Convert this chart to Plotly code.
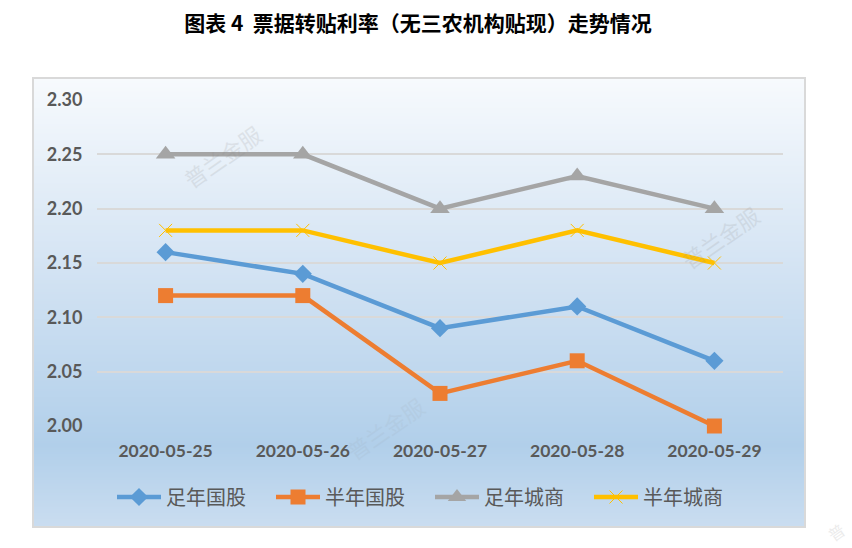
import plotly.graph_objects as go

dates = ['2020-05-25', '2020-05-26', '2020-05-27', '2020-05-28', '2020-05-29']
zunian_guogu = [2.16, 2.14, 2.09, 2.11, 2.06]
bannian_guogu = [2.12, 2.12, 2.03, 2.06, 2.00]
zunian_chengshang = [2.25, 2.25, 2.20, 2.23, 2.20]
bannian_chengshang = [2.18, 2.18, 2.15, 2.18, 2.15]
y_ticks = [2.00, 2.05, 2.10, 2.15, 2.20, 2.25, 2.30]

W, H = 852, 548
L, R, T, B = 97, 783, 100, 426
BOX = (33, 78, 805, 527)


def px(x):
    return (x - L) / (R - L)


def py(y):
    return (B - y) / (B - T)


def mix(a, b, t):
    return tuple(round(a[i] + (b[i] - a[i]) * t) for i in range(3))


# background gradient of the chart box, drawn as thin bands
stops = [(78, (247, 250, 253)), (270, (211, 227, 243)), (445, (177, 207, 234)), (527, (202, 221, 240))]
shapes = []
for y in range(BOX[1], BOX[3]):
    for (y0, c0), (y1, c1) in zip(stops, stops[1:]):
        if y0 <= y <= y1:
            r, g, b = mix(c0, c1, (y - y0) / (y1 - y0))
            break
    shapes.append(dict(type='rect', xref='paper', yref='paper', layer='below',
                       x0=px(BOX[0]), x1=px(BOX[2]), y0=py(y), y1=py(y + 1.5),
                       fillcolor=f'rgb({r},{g},{b})', line_width=0))
shapes.append(dict(type='rect', xref='paper', yref='paper', layer='below',
                   x0=px(BOX[0]), x1=px(BOX[2]), y0=py(BOX[1]), y1=py(BOX[3]),
                   line=dict(color='#D9D9D9', width=2)))

fig = go.Figure()


def add_line(name, values, color, symbol, size, **marker_extra):
    fig.add_trace(go.Scatter(
        x=dates, y=values, name=name, mode='lines+markers', cliponaxis=False,
        line=dict(color=color, width=4.5),
        marker=dict(symbol=symbol, size=size, color=color, **marker_extra)
    ))


add_line('足年国股', zunian_guogu, '#5B9BD5', 'diamond', 14)
add_line('半年国股', bannian_guogu, '#ED7D31', 'square', 15)
add_line('足年城商', zunian_chengshang, '#A5A5A5', 'triangle-up', 17)
add_line('半年城商', bannian_chengshang, '#FFC000', 'x-thin', 13, line=dict(color='#FFC000', width=1))

# watermarks
annotations = []
for text, x, y, size, alpha in [('普兰金服', 222, 156, 22, 0.16), ('普兰金服', 720, 237, 22, 0.16),
                                ('普兰金服', 385, 428, 22, 0.08), ('普', 836, 532, 16, 0.16)]:
    annotations.append(dict(text=text, x=px(x), y=py(y), xref='paper', yref='paper',
                            xanchor='center', yanchor='middle',
                            showarrow=False, textangle=-35, opacity=alpha,
                            font=dict(family='Noto Sans CJK SC', size=size, color='#8A8A8A')))

fig.update_layout(
    width=W, height=H,
    margin=dict(l=L, r=W - R, t=T, b=H - B, pad=0),
    paper_bgcolor='white',
    plot_bgcolor='rgba(0,0,0,0)',
    shapes=shapes,
    annotations=annotations,
    title=dict(text='<b>图表 4  票据转贴利率（无三农机构贴现）走势情况</b>', x=418 / W, xanchor='center',
               y=1 - 24 / H, yanchor='middle',
               font=dict(family='Noto Sans CJK SC', size=21, color='black')),
    legend=dict(orientation='h', x=px(112), xanchor='left', y=py(497), yanchor='middle',
                itemwidth=44, entrywidth=100, entrywidthmode='pixels',
                bgcolor='rgba(0,0,0,0)', traceorder='normal',
                font=dict(family='Noto Sans CJK SC', size=20, color='#595959')),
    showlegend=True,
    hovermode='x unified'
)
fig.update_xaxes(type='category', range=[-0.5, 4.5], showgrid=False, showline=False, zeroline=False,
                 ticks='outside', ticklen=9, tickcolor='rgba(0,0,0,0)',
                 tickfont=dict(family='Lato', size=17.5, color='#595959', weight='bold'))
fig.update_yaxes(range=[2.00, 2.30], tickvals=y_ticks, tickformat='.2f', showgrid=True,
                 gridcolor='#D9D9D9', gridwidth=2, showline=False, zeroline=False,
                 ticks='outside', ticklen=10, tickcolor='rgba(0,0,0,0)',
                 tickfont=dict(family='Lato', size=18, color='#595959', weight='bold'))

fig.write_html("out.html", config={'displayModeBar': False},
               post_script="document.body.style.margin='0';")
